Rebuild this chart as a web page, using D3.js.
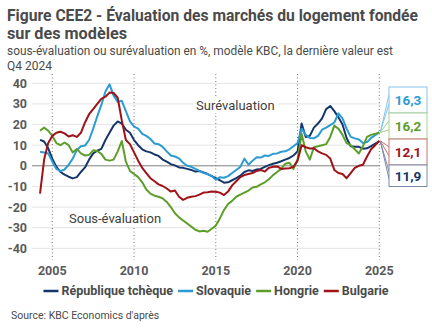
<!DOCTYPE html>
<html>
<head>
<meta charset="utf-8">
<script src="https://cdn.jsdelivr.net/npm/d3@7.9.0/dist/d3.min.js"></script>
<style>
  body { margin: 0; background: #fff; }
  svg { display: block; font-family: Roboto, "Noto Sans", sans-serif; }
</style>
</head>
<body>
<svg id="chart" width="432" height="334"></svg>
<script>
// quarterly values, Q1 2004 .. Q4 2024 (one row per year)
const czech = [
  12.6, 11.8, 8.5, 3.5,
  -0.5, -3.0, -4.3, -5.3,
  -6.1, -5.5, -3.0, -0.8,
  3.0, 6.0, 7.3, 8.2,
  12.5, 16.0, 19.5, 21.5,
  20.5, 17.5, 16.0, 12.5,
  10.0, 8.0, 7.0, 6.5,
  5.5, 4.8, 3.0, 2.0,
  0.8, 0.2, -0.8, -1.0,
  -1.5, -2.0, -2.8, -2.5,
  -3.2, -4.0, -5.0, -6.0,
  -7.0, -8.2, -8.0, -7.0,
  -6.0, -4.8, -3.0, -2.2,
  -2.5, -1.8, -1.5, -0.5,
  0.3, 1.0, 1.5, 2.2,
  3.0, 3.8, 5.0, 7.0,
  20.5, 14.0, 14.5, 18.5,
  20.5, 23.0, 27.5, 29.0,
  26.5, 23.5, 20.0, 13.5,
  9.5, 9.2, 9.2, 8.3,
  8.5, 9.5, 10.8, 11.9
];
const slovakia = [
  6.8, 6.4, 6.0, 2.0,
  -1.5, -2.6, -1.8, 0.5,
  3.5, 7.6, 9.5, 9.8,
  12.5, 18.0, 24.0, 29.5,
  36.0, 39.5, 34.0, 31.0,
  31.5, 26.5, 21.5, 19.0,
  18.0, 15.5, 14.5, 13.0,
  10.8, 10.5, 9.2, 7.0,
  5.0, 4.5, 3.6, 1.5,
  0.0, -0.5, -1.5, -2.5,
  -3.5, -4.0, -5.0, -6.8,
  -5.5, -5.8, -5.0, -3.5,
  -2.0, -0.5, 3.5, 0.5,
  2.5, 4.2, 4.0, 5.0,
  4.8, 5.8, 6.0, 6.8,
  7.0, 8.0, 9.5, 11.0,
  18.0, 15.0, 13.5, 13.3,
  14.5, 17.5, 18.5, 19.7,
  21.0, 25.4, 23.0, 18.0,
  14.0, 13.3, 12.8, 11.0,
  11.5, 13.5, 14.8, 16.3
];
const hungary = [
  17.0, 18.5, 17.0, 14.5,
  11.0, 10.0, 11.3, 10.0,
  6.5, 8.2, 6.0, 5.0,
  5.3, 7.5, 7.2, 5.8,
  3.0, 2.5, 3.0, 7.0,
  12.0, 2.0, -2.5, -4.0,
  -5.5, -8.0, -11.5, -13.5,
  -14.5, -15.0, -15.8, -17.5,
  -20.0, -23.0, -25.0, -26.5,
  -28.0, -29.5, -31.0, -31.8,
  -31.5, -32.0, -30.5, -29.0,
  -25.5, -21.5, -18.5, -17.0,
  -15.0, -14.0, -13.0, -12.0,
  -10.5, -10.2, -9.0, -8.0,
  -6.5, -4.5, -3.0, -1.5,
  1.0, 1.5, -1.5, 3.0,
  15.5, 7.0, 3.0, 9.0,
  9.5, 10.0, 10.5, 14.0,
  19.5, 18.0, 15.0, 11.0,
  10.0, 8.0, 6.0, 9.5,
  14.0, 15.0, 15.5, 16.2
];
const bulgaria = [
  -13.5, 3.0, 11.0, 14.5,
  16.0, 16.5, 15.7, 14.2,
  14.8, 14.0, 16.0, 21.0,
  25.0, 27.5, 30.0, 32.5,
  33.5, 35.5, 35.3, 33.0,
  22.0, 12.5, 10.5, 6.5,
  2.5, -1.0, -3.5, -6.0,
  -7.5, -9.0, -9.8, -11.0,
  -12.5, -12.0, -15.0, -16.5,
  -15.5, -15.0, -14.7, -14.0,
  -13.0, -12.8, -12.5, -12.6,
  -13.0, -14.2, -12.5, -9.5,
  -7.5, -5.5, -4.5, -4.0,
  -3.5, -2.5, -2.0, -2.8,
  -1.0, -0.5, -0.3, -1.5,
  -1.3, -1.2, -0.5, 2.5,
  10.0, 9.0, 8.4, 8.5,
  7.0, 6.0, 5.3, 3.5,
  -2.0, -3.5, -4.0, -6.0,
  -3.5, -1.0, 0.0, 0.5,
  4.5, 8.0, 10.0, 12.1
];

const seriesNames = ["République tchèque", "Slovaquie", "Hongrie", "Bulgarie"];
const seriesValues = [czech, slovakia, hungary, bulgaria];
const seriesColors = ["#15366b", "#2b9bd3", "#5c9e2a", "#9e1218"];
const boxColors = ["#7b8bab", "#86c4e6", "#a9cf8d", "#c77272"];
const lastLabels = ["11,9", "16,3", "16,2", "12,1"];
const boxOrder = [1, 2, 3, 0]; // top to bottom
const yTicks = [40, 30, 20, 10, 0, -10, -20, -30, -40];
const xTicks = [2005, 2010, 2015, 2020, 2025];
const firstQuarter = 2004.25;

const svg = d3.select("#chart");
const textColor = "#4a4a4a";

const x = d3.scaleLinear().domain([2005, 2025]).range([52.3, 379.3]);
const y = d3.scaleLinear().domain([-40, 40]).range([248.3, 83.3]);

// titles
svg.append("text").attr("x", 7).attr("y", 21)
  .attr("font-size", 16).attr("font-weight", "bold").attr("fill", textColor)
  .attr("textLength", 411).attr("lengthAdjust", "spacingAndGlyphs")
  .text("Figure CEE2 - Évaluation des marchés du logement fondée");
svg.append("text").attr("x", 7).attr("y", 38.5)
  .attr("font-size", 16).attr("font-weight", "bold").attr("fill", textColor)
  .attr("textLength", 120).attr("lengthAdjust", "spacingAndGlyphs")
  .text("sur des modèles");
svg.append("text").attr("x", 7).attr("y", 55)
  .attr("font-size", 12).attr("fill", textColor)
  .attr("textLength", 386).attr("lengthAdjust", "spacingAndGlyphs")
  .text("sous-évaluation ou surévaluation en %, modèle KBC, la dernière valeur est");
svg.append("text").attr("x", 7).attr("y", 70)
  .attr("font-size", 12).attr("fill", textColor)
  .text("Q4 2024");

// grid
svg.append("g").selectAll("line").data(yTicks).join("line")
  .attr("x1", 32).attr("x2", 380)
  .attr("y1", d => y(d)).attr("y2", d => y(d))
  .attr("stroke", d => d === 0 ? "#808080" : "#e4e4e4")
  .attr("stroke-width", 1);

svg.append("g").selectAll("text").data(yTicks).join("text")
  .attr("x", 27).attr("y", d => y(d) + 4.5)
  .attr("text-anchor", "end").attr("font-size", 12.5).attr("font-weight", "bold")
  .attr("fill", "#5a5a5a").text(d => d);

svg.append("g").selectAll("line").data(xTicks).join("line")
  .attr("x1", d => x(d)).attr("x2", d => x(d))
  .attr("y1", 74).attr("y2", 260)
  .attr("stroke", "#777").attr("stroke-width", 1)
  .attr("stroke-dasharray", "1,2.5");

svg.append("g").selectAll("text").data(xTicks).join("text")
  .attr("x", d => x(d)).attr("y", 275)
  .attr("text-anchor", "middle").attr("font-size", 12.5).attr("font-weight", "bold")
  .attr("fill", "#5a5a5a").text(d => d);

// zone labels with white background
function zoneLabel(tx, ty, txt) {
  const g = svg.append("g");
  const r = g.append("rect").attr("fill", "#fff");
  const t = g.append("text").attr("x", tx).attr("y", ty)
    .attr("font-size", 13).attr("fill", "#404040").text(txt);
  const b = t.node().getBBox();
  r.attr("x", b.x - 3).attr("y", b.y).attr("width", b.width + 6).attr("height", b.height);
}
zoneLabel(196, 110, "Surévaluation");
zoneLabel(69, 223, "Sous-évaluation");

// lines
const line = d3.line()
  .x((d, i) => x(firstQuarter + 0.25 * i))
  .y(d => y(d));

svg.append("g").selectAll("path").data(seriesValues).join("path")
  .attr("d", line)
  .attr("fill", "none")
  .attr("stroke", (d, i) => seriesColors[i])
  .attr("stroke-width", 2)
  .attr("stroke-linejoin", "round");

// last value callouts
const boxX = 389, boxW = 38;
const boxTops = [87, 113, 139, 165];
const boxHeights = [26, 26, 26, 21.5];
boxOrder.forEach((s, k) => {
  const vals = seriesValues[s];
  const ex = x(firstQuarter + 0.25 * (vals.length - 1));
  const ey = y(vals[vals.length - 1]);
  const top = boxTops[k], h = boxHeights[k];
  svg.append("path")
    .attr("d", `M${boxX},${top + h * 0.3}L${ex + 1},${ey}L${boxX},${top + h * 0.65}`)
    .attr("fill", "#fff").attr("stroke", boxColors[s]).attr("stroke-width", 1);
  svg.append("rect")
    .attr("x", boxX).attr("y", top).attr("width", boxW).attr("height", h)
    .attr("fill", "#fff").attr("stroke", boxColors[s]).attr("stroke-width", 1);
  svg.append("text")
    .attr("x", boxX + boxW / 2).attr("y", top + h / 2 + 5)
    .attr("text-anchor", "middle").attr("font-size", 13.5).attr("font-weight", "bold")
    .attr("fill", seriesColors[s]).text(lastLabels[s]);
});

// legend
const legend = svg.append("g");
let lx = 0;
seriesNames.forEach((name, i) => {
  const item = legend.append("g").attr("transform", `translate(${lx},0)`);
  item.append("line").attr("x1", 0).attr("x2", 15).attr("y1", 0).attr("y2", 0)
    .attr("stroke", seriesColors[i]).attr("stroke-width", 2.5);
  const t = item.append("text").attr("x", 18).attr("y", 4.3)
    .attr("font-size", 12.5).attr("font-weight", "bold").attr("fill", textColor)
    .text(name);
  lx += 18 + t.node().getComputedTextLength() + 5;
});
legend.attr("transform", `translate(${216 - (lx - 5) / 2},291)`);

svg.append("text").attr("x", 11).attr("y", 319)
  .attr("font-size", 10.5).attr("fill", textColor)
  .text("Source: KBC Economics d'après");
</script>
</body>
</html>
